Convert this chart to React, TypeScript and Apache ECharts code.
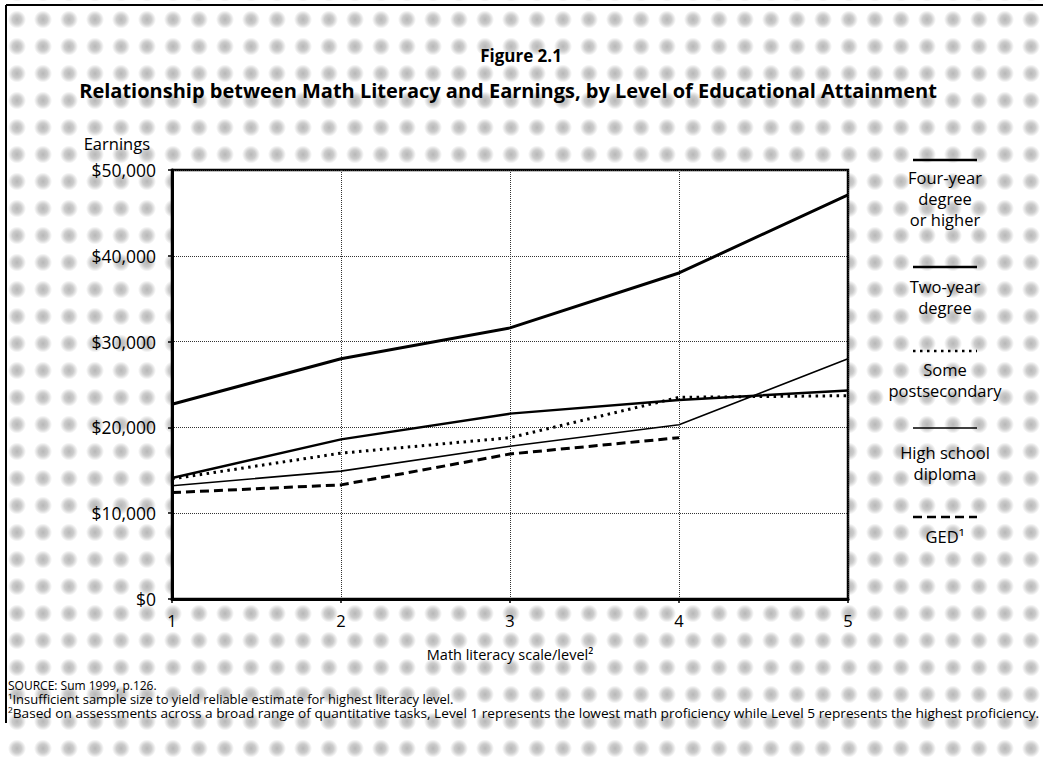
import React, { useEffect, useRef } from "react";
import * as echarts from "echarts";

// ---- data ----
const levels = [1, 2, 3, 4, 5];
const fourYear = [22700, 28000, 31600, 38000, 47100];
const twoYear = [14100, 18600, 21600, 23200, 24300];
const somePost = [14000, 17000, 18800, 23500, 23700];
const highSchool = [13200, 14900, 17800, 20300, 28000];
const ged = [12400, 13300, 16900, 18800];
const seriesNames = [
  "Four-year degree or higher",
  "Two-year degree",
  "Some postsecondary",
  "High school diploma",
  "GED¹",
];
const legendLabels = [
  "Four-year\ndegree\nor higher",
  "Two-year\ndegree",
  "Some\npostsecondary",
  "High school\ndiploma",
  "GED¹",
];
const figureLabel = "Figure 2.1";
const titleText =
  "Relationship between Math Literacy and Earnings, by Level of Educational Attainment";
const yAxisTitle = "Earnings";
const xAxisTitle = "Math literacy scale/level²";
const sourceNote = "SOURCE: Sum 1999, p.126.";
const footnote1 = "¹Insufficient sample size to yield reliable estimate for highest literacy level.";
const footnote2 =
  "²Based on assessments across a broad range of quantitative tasks, Level 1 represents the lowest math proficiency while Level 5 represents the highest proficiency.";

// ---- styling / layout ----
const FONT = '"Open Sans", "Noto Sans", sans-serif';
const lineStyles: any[] = [
  { width: 3, type: "solid" },
  { width: 2.4, type: "solid" },
  { width: 3, type: [2.5, 4.5] },
  { width: 1.6, type: "solid" },
  { width: 3, type: [9, 5] },
];
const legendLineY = [160, 267, 351, 428, 517];
const legendTextY = [167, 276, 359, 442, 526];
const legendCx = 945;

function toPairs(vals: number[]) {
  return vals.map((v, i) => [levels[i], v]);
}

export default function App() {
  const ref = useRef<HTMLDivElement>(null);
  useEffect(() => {
    if (!ref.current) return;
    const chart = echarts.init(ref.current, undefined, { renderer: "svg" });
    const seriesData = [fourYear, twoYear, somePost, highSchool, ged];

    const noteStyle = (text: string) => ({
      text, fontSize: 12, lineHeight: 12, fontFamily: FONT, fill: "#000", align: "left", verticalAlign: "middle",
    });

    const graphic: any[] = [
      // outer frame (left + top)
      { type: "line", shape: { x1: 6, y1: 5, x2: 6, y2: 723 }, style: { stroke: "#000", lineWidth: 2 } },
      { type: "line", shape: { x1: 6, y1: 5, x2: 1043, y2: 5 }, style: { stroke: "#000", lineWidth: 2 } },
      {
        type: "text", x: 521, y: 55,
        style: { text: figureLabel, fontSize: 17, fontWeight: "bold", fontFamily: FONT, fill: "#000", align: "center", verticalAlign: "middle" },
      },
      {
        type: "text", x: 508, y: 90,
        style: { text: titleText, fontSize: 20, fontWeight: "bold", fontFamily: FONT, fill: "#000", align: "center", verticalAlign: "middle" },
      },
      {
        type: "text", x: 150, y: 143,
        style: { text: yAxisTitle, fontSize: 16.5, fontFamily: FONT, fill: "#000", align: "right", verticalAlign: "middle" },
      },
      { type: "text", x: 8, y: 685, style: noteStyle(sourceNote) },
      { type: "text", x: 8, y: 700, scaleX: 1.08, style: noteStyle(footnote1) },
      { type: "text", x: 8, y: 713, scaleX: 1.14, style: noteStyle(footnote2) },
    ];

    legendLabels.forEach((lab, i) => {
      const ls = lineStyles[i];
      graphic.push({
        type: "line",
        shape: { x1: legendCx - 32, y1: legendLineY[i], x2: legendCx + 32, y2: legendLineY[i] },
        style: {
          stroke: "#000",
          lineWidth: Math.min(ls.width, 2.5),
          lineDash: Array.isArray(ls.type) ? ls.type : null,
        },
      });
      graphic.push({
        type: "text", x: legendCx, y: legendTextY[i],
        style: { text: lab, fontSize: 16.5, lineHeight: 21, fontFamily: FONT, fill: "#000", align: "center", verticalAlign: "top" },
      });
    });

    chart.setOption({
      animation: false,
      backgroundColor: "transparent",
      textStyle: { fontFamily: FONT },
      grid: {
        left: 172, right: 195, top: 170, bottom: 158,
        show: true, backgroundColor: "#fff", borderColor: "#000", borderWidth: 2.5,
      },
      xAxis: {
        type: "value", min: 1, max: 5, interval: 1,
        name: xAxisTitle, nameLocation: "middle", nameGap: 48,
        nameTextStyle: { fontSize: 14.5, color: "#000", fontFamily: FONT },
        axisLine: { show: true, lineStyle: { color: "#000", width: 3 } },
        axisTick: { show: true, length: 4, lineStyle: { color: "#000", width: 1.5 } },
        axisLabel: { color: "#000", fontSize: 16.5, margin: 13, fontFamily: FONT },
        splitLine: { show: true, lineStyle: { color: "#333", width: 1, type: "dotted" } },
      },
      yAxis: {
        type: "value", min: 0, max: 50000, interval: 10000,
        axisLine: { show: true, lineStyle: { color: "#000", width: 3 } },
        axisTick: { show: true, length: 4, lineStyle: { color: "#000", width: 1.5 } },
        axisLabel: {
          color: "#000", fontSize: 17.5, margin: 16, fontFamily: FONT,
          formatter: (v: number) => "$" + v.toLocaleString("en-US"),
        },
        splitLine: { show: true, lineStyle: { color: "#333", width: 1, type: "dotted" } },
      },
      series: seriesData.map((d, i) => ({
        name: seriesNames[i],
        type: "line",
        data: toPairs(d),
        symbol: "none",
        lineStyle: { color: "#000", width: lineStyles[i].width, type: lineStyles[i].type },
        z: 3,
      })),
      graphic,
    });
    return () => chart.dispose();
  }, []);

  return (
    <div
      style={{
        position: "fixed",
        left: 0,
        top: 0,
        width: 1043,
        height: 757,
        backgroundColor: "#fff",
        backgroundImage:
          "radial-gradient(circle, rgba(125,125,125,0.55) 0px, rgba(125,125,125,0.4) 4.5px, rgba(255,255,255,0) 9px)",
        backgroundSize: "26px 27px",
        backgroundPosition: "4px 6px",
      }}
    >
      <div ref={ref} style={{ width: 1043, height: 757 }} />
    </div>
  );
}
